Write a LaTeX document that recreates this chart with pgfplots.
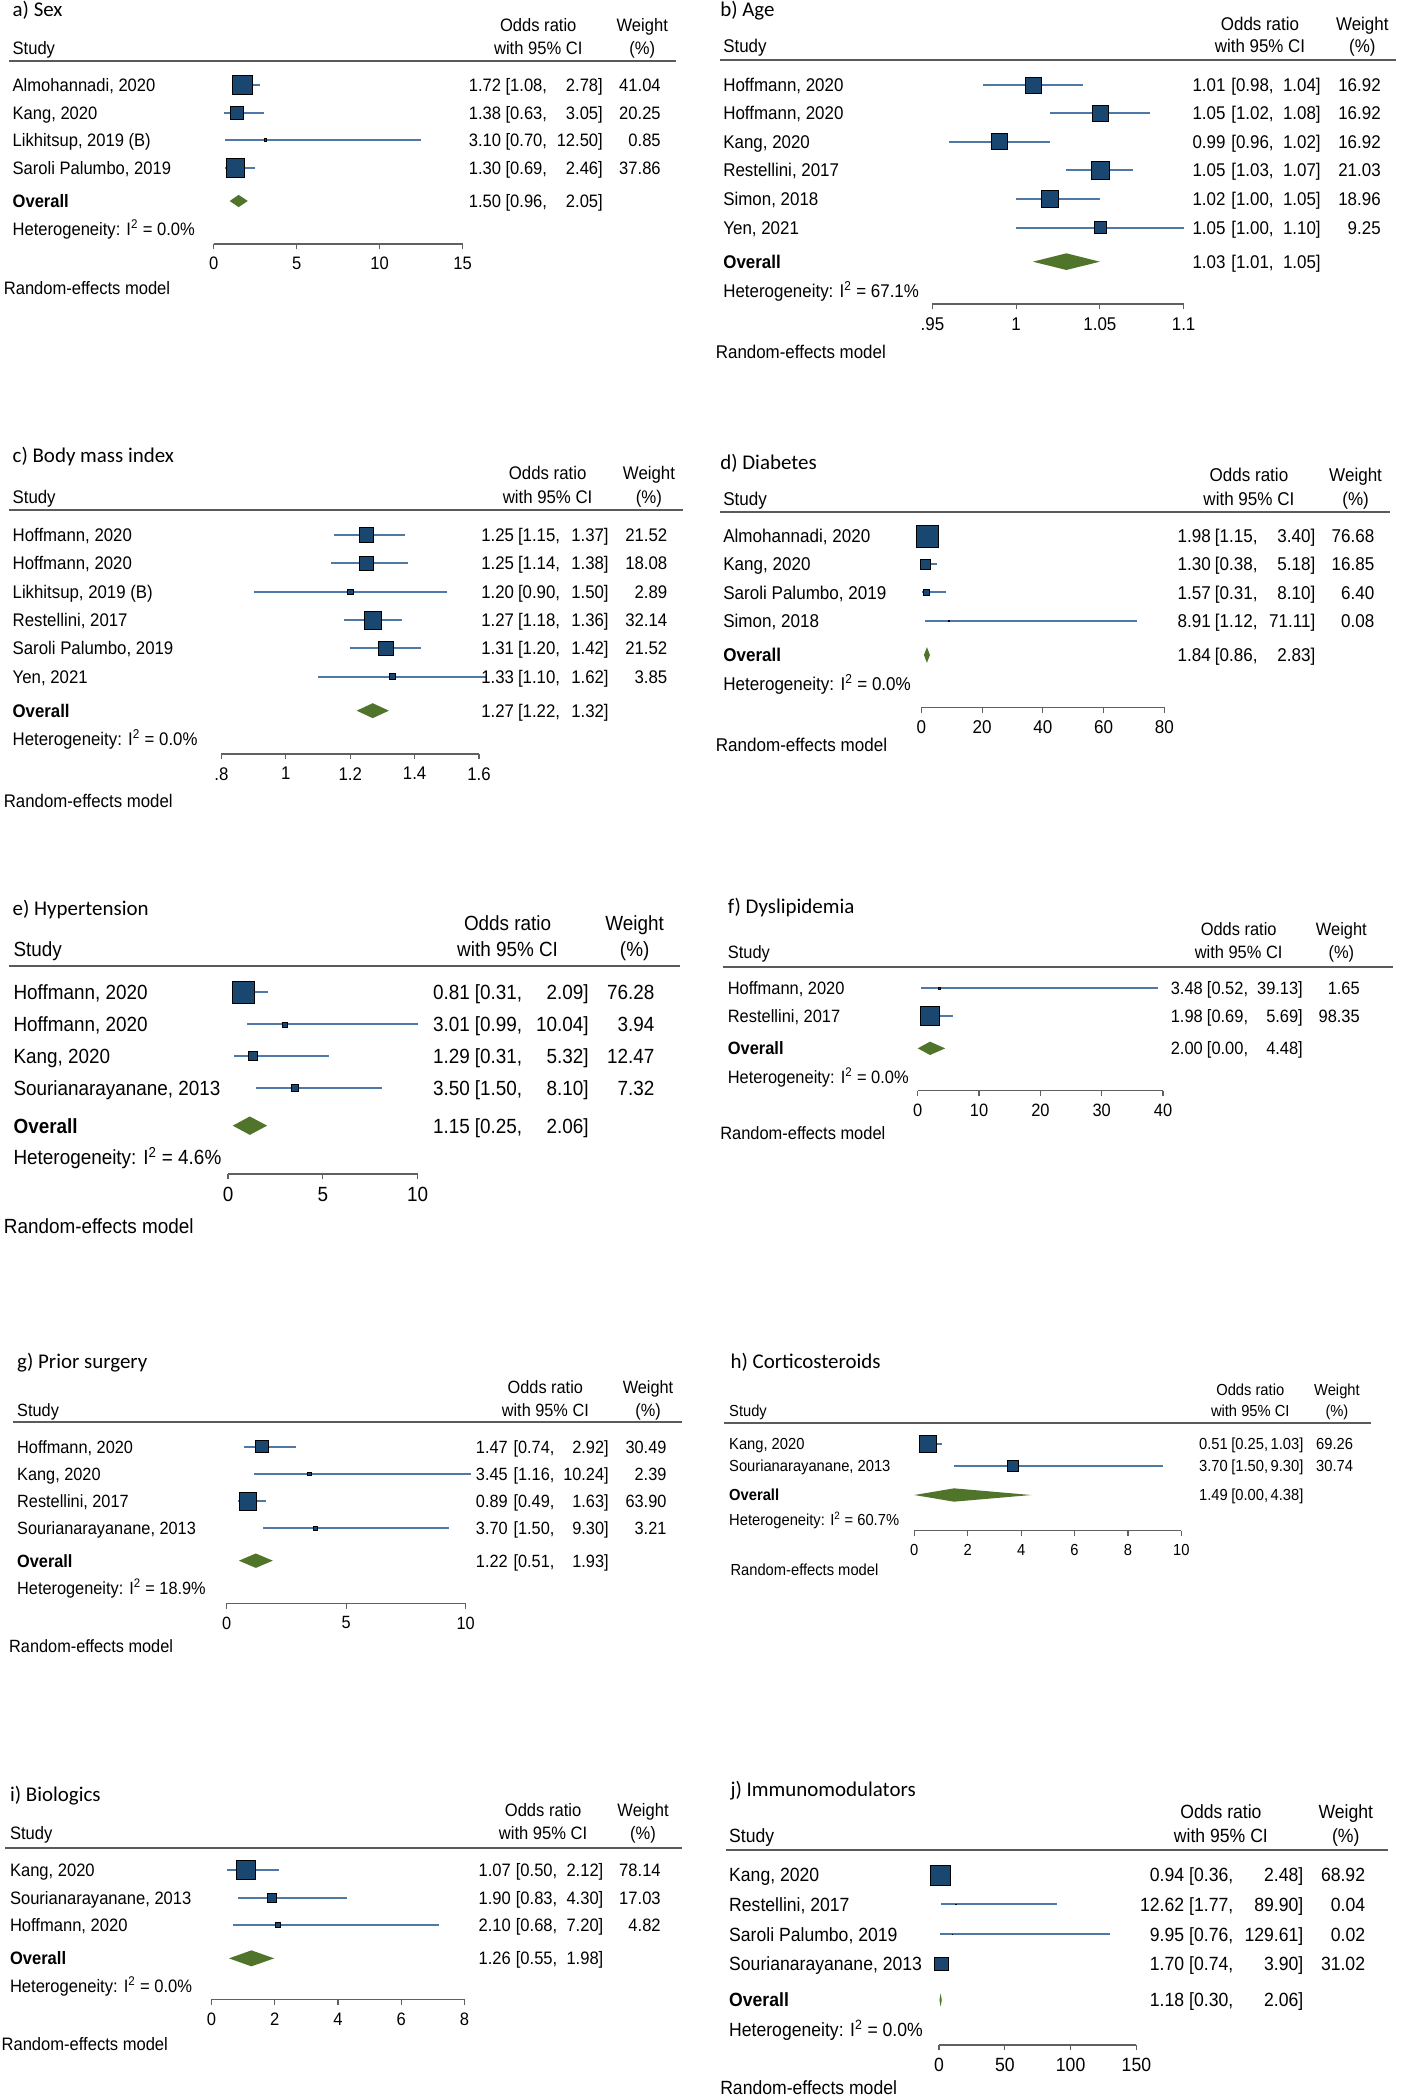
\documentclass[border=0pt]{standalone}
\usepackage{pgfplots}
\pgfplotsset{compat=1.18}
\usepackage{pgfplotstable}
\usepackage{fontspec}
\newfontfamily\bodyfont{Liberation Sans}[FakeStretch=0.92]
\newfontfamily\titlefont{Carlito}
\newcommand\fs[1]{\bodyfont\fontsize{#1}{#1}\selectfont}
\newcommand\titlef{\titlefont\fontsize{15.7}{15.7}\selectfont}

\definecolor{sqnavy}{HTML}{1A476F}
\definecolor{ciblue}{HTML}{4E79A6}
\definecolor{diagreen}{HTML}{4F742A}
\definecolor{rulegray}{HTML}{5A5A5A}
\definecolor{axgray}{HTML}{606060}

\pgfplotsset{
  forest/.style={
    scale only axis, clip=false, enlargelimits=false,
    anchor=south west,
    axis x line=bottom, axis y line=none, ytick=\empty,
    x axis line style={-, draw=axgray, line width=0.9pt},
    tick align=outside, major tick length=4pt,
    xtick style={draw=axgray, line width=0.9pt},
    xticklabel style={font=\fs{\Sz}, text=black},
    xticklabel shift=2.5pt,
    /pgf/number format/assume math mode=true,
  },
  ci/.style={draw=none, mark=none,
    error bars/x dir=both, error bars/x explicit, error bars/error mark=none,
    error bars/error bar style={draw=ciblue, line width=1.35pt, solid}},
  sq/.style={only marks, scatter, mark=square*,
    scatter/use mapped color={draw=none, fill=sqnavy},
    visualization depends on={\kk*sqrt(\thisrow{w})/2 \as \ms},
    scatter/@pre marker code/.append style={/tikz/mark size=\ms}},
  dia/.style={draw=none, fill=diagreen, mark=none},
}

% CI lines and weighted squares for one table
\newcommand\studies[1]{%
  \addplot[ci] table[x=or, y expr=-\thisrow{y},
    x error plus expr=\thisrow{hi}-\thisrow{or},
    x error minus expr=\thisrow{or}-\thisrow{lo}] {#1};
  \addplot[sq] table[x=or, y expr=-\thisrow{y}] {#1};}

% column positions of a panel: name, OR right, [ left, upper right, weight right, header centres, font size
\newcommand\setp[8]{\def\Xn{#1}\def\Xo{#2}\def\Xb{#3}\def\Xu{#4}\def\Xw{#5}\def\Xc{#6}\def\Xwc{#7}\def\Sz{#8}}

\newcommand\hdr[8]{%
  \node[anchor=base west, font=\titlef] at (#1,#2) {#3};
  \node[anchor=base] at (\Xc,#4) {Odds ratio};
  \node[anchor=base] at (\Xwc,#4) {Weight};
  \node[anchor=base west] at (\Xn,#5) {Study};
  \node[anchor=base] at (\Xc,#5) {with 95\% CI};
  \node[anchor=base] at (\Xwc,#5) {(\%)};
  \draw[rulegray, line width=1.5pt] (#7,#6) -- (#8,#6);}

\newcommand\row[6]{%
  \pgfmathsetmacro\yb{#1+0.36*\Sz}%
  \node[anchor=base west] at (\Xn,\yb) {#2};
  \node[anchor=base east] at (\Xo,\yb) {#3};
  \node[anchor=base west] at (\Xb,\yb) {[#4,};
  \node[anchor=base east] at (\Xu,\yb) {#5]};
  \node[anchor=base east] at (\Xw,\yb) {#6};}

\newcommand\ftr[4]{%
  \pgfmathsetmacro\yb{#1+0.36*\Sz}%
  \node[anchor=base west] at (\Xn,\yb) {Heterogeneity: I\textsuperscript{2} = #2\%};
  \pgfmathsetmacro\yb{#4+0.36*\Sz}%
  \node[anchor=base west] at (#3,\yb) {Random-effects model};}

\tikzset{txt/.style={x=1pt, y=-1pt, every node/.style={inner sep=0pt, font=\fs{\Sz}}}}

\pgfplotstableread{
y or lo hi w
63.75 1.72 1.08 2.78 41.04
84.5 1.38 0.63 3.05 20.25
105 3.10 0.70 12.50 0.85
125.75 1.30 0.69 2.46 37.86
}\tA
\pgfplotstableread{
y or lo hi w
63.75 1.01 0.98 1.04 16.92
85 1.05 1.02 1.08 16.92
106.25 0.99 0.96 1.02 16.92
127.5 1.05 1.03 1.07 21.03
149.25 1.02 1.00 1.05 18.96
170.75 1.05 1.00 1.10 9.25
}\tB
\pgfplotstableread{
y or lo hi w
401.25 1.25 1.15 1.37 21.52
422.5 1.25 1.14 1.38 18.08
443.75 1.20 0.90 1.50 2.89
465 1.27 1.18 1.36 32.14
486.25 1.31 1.20 1.42 21.52
507.5 1.33 1.10 1.62 3.85
}\tC
\pgfplotstableread{
y or lo hi w
402 1.98 1.15 3.40 76.68
423 1.30 0.38 5.18 16.85
444.25 1.57 0.31 8.10 6.40
465.5 8.91 1.12 71.11 0.08
}\tD
\pgfplotstableread{
y or lo hi w
744.25 0.81 0.31 2.09 76.28
768.25 3.01 0.99 10.04 3.94
791.75 1.29 0.31 5.32 12.47
815.75 3.50 1.50 8.10 7.32
}\tE
\pgfplotstableread{
y or lo hi w
741.25 3.48 0.52 39.13 1.65
761.75 1.98 0.69 5.69 98.35
}\tF
\pgfplotstableread{
y or lo hi w
1085 1.47 0.74 2.92 30.49
1105.5 3.45 1.16 10.24 2.39
1125.75 0.89 0.49 1.63 63.90
1146.25 3.70 1.50 9.30 3.21
}\tG
\pgfplotstableread{
y or lo hi w
1083 0.51 0.25 1.03 69.26
1099.5 3.70 1.50 9.30 30.74
}\tH
\pgfplotstableread{
y or lo hi w
1402.5 1.07 0.50 2.12 78.14
1423.25 1.90 0.83 4.30 17.03
1443.75 2.10 0.68 7.20 4.82
}\tI
\pgfplotstableread{
y or lo hi w
1406.25 0.94 0.36 2.48 68.92
1428.25 12.62 1.77 89.90 0.04
1450.75 9.95 0.76 129.61 0.02
1473 1.70 0.74 3.90 31.02
}\tJ

\begin{document}
\begin{tikzpicture}
\path[use as bounding box] (0,0) rectangle (1050.75pt,-1575pt);

% a) Sex
\setp{9.3}{376}{379}{452.3}{495.7}{403.7}{481.7}{13.5}\def\kk{2.25}
\begin{axis}[forest, at={(160.3pt,-183pt)}, width=186.7pt, height=137.25pt,
  xmin=0, xmax=15, ymin=-183, ymax=-45.75, xtick={0,5,10,15}, xticklabels={0,5,10,15}]
\studies{\tA}
\addplot[dia] coordinates {(0.96,-150.75) (1.50,-146.15) (2.05,-150.75) (1.50,-155.35) (0.96,-150.75)};
\end{axis}
\begin{scope}[txt]
\hdr{9.3}{12.5}{a) Sex}{23.75}{40.5}{45.75}{6.7}{506.7}
\row{63.75}{Almohannadi, 2020}{1.72}{1.08}{2.78}{41.04}
\row{84.5}{Kang, 2020}{1.38}{0.63}{3.05}{20.25}
\row{105}{Likhitsup, 2019 (B)}{3.10}{0.70}{12.50}{0.85}
\row{125.75}{Saroli Palumbo, 2019}{1.30}{0.69}{2.46}{37.86}
\row{150.75}{\bfseries Overall}{1.50}{0.96}{2.05}{}
\ftr{172}{0.0}{2.7}{216.25}
\end{scope}

% b) Age
\setp{542.3}{919.3}{923.3}{990.7}{1035.7}{945}{1021.7}{13.8}\def\kk{2.95}
\begin{axis}[forest, at={(699.3pt,-228pt)}, width=188.4pt, height=183pt,
  xmin=0.95, xmax=1.1, ymin=-228, ymax=-45, xtick={0.95,1,1.05,1.1}, xticklabels={.95,1,1.05,1.1}]
\studies{\tB}
\addplot[dia] coordinates {(1.01,-196.25) (1.03,-190) (1.05,-196.25) (1.03,-202.5) (1.01,-196.25)};
\end{axis}
\begin{scope}[txt]
\hdr{540}{12.5}{b) Age}{22.5}{39.5}{45}{540}{1046.7}
\row{63.75}{Hoffmann, 2020}{1.01}{0.98}{1.04}{16.92}
\row{85}{Hoffmann, 2020}{1.05}{1.02}{1.08}{16.92}
\row{106.25}{Kang, 2020}{0.99}{0.96}{1.02}{16.92}
\row{127.5}{Restellini, 2017}{1.05}{1.03}{1.07}{21.03}
\row{149.25}{Simon, 2018}{1.02}{1.00}{1.05}{18.96}
\row{170.75}{Yen, 2021}{1.05}{1.00}{1.10}{9.25}
\row{196.25}{\bfseries Overall}{1.03}{1.01}{1.05}{}
\ftr{218}{67.1}{536.7}{263.75}
\end{scope}

% c) Body mass index
\setp{9.3}{385.7}{388.3}{456.7}{500.7}{410.7}{486.7}{13.7}\def\kk{2.35}
\begin{axis}[forest, at={(166pt,-565.5pt)}, width=193.3pt, height=183pt,
  xmin=0.8, xmax=1.6, ymin=-565.5, ymax=-382.5, xtick={0.8,1,1.2,1.4,1.6}, xticklabels={.8,1,1.2,1.4,1.6}]
\studies{\tC}
\addplot[dia] coordinates {(1.22,-533) (1.27,-527.4) (1.32,-533) (1.27,-538.6) (1.22,-533)};
\end{axis}
\begin{scope}[txt]
\hdr{9.3}{347}{c) Body mass index}{359.5}{377.5}{382.5}{6.7}{512.3}
\row{401.25}{Hoffmann, 2020}{1.25}{1.15}{1.37}{21.52}
\row{422.5}{Hoffmann, 2020}{1.25}{1.14}{1.38}{18.08}
\row{443.75}{Likhitsup, 2019 (B)}{1.20}{0.90}{1.50}{2.89}
\row{465}{Restellini, 2017}{1.27}{1.18}{1.36}{32.14}
\row{486.25}{Saroli Palumbo, 2019}{1.31}{1.20}{1.42}{21.52}
\row{507.5}{Yen, 2021}{1.33}{1.10}{1.62}{3.85}
\row{533}{\bfseries Overall}{1.27}{1.22}{1.32}{}
\ftr{554.5}{0.0}{2.7}{600.5}
\end{scope}

% d) Diabetes
\setp{542.3}{908.3}{911}{986.7}{1031}{936.7}{1016.7}{13.9}\def\kk{1.88}
\begin{axis}[forest, at={(691pt,-530.5pt)}, width=182.3pt, height=146.25pt,
  xmin=0, xmax=80, ymin=-530.5, ymax=-384.25, xtick={0,20,40,60,80}, xticklabels={0,20,40,60,80}]
\studies{\tD}
\addplot[dia] coordinates {(0.86,-491.25) (1.84,-485.35) (2.83,-491.25) (1.84,-497.15) (0.86,-491.25)};
\end{axis}
\begin{scope}[txt]
\hdr{540}{351.75}{d) Diabetes}{361.25}{378.75}{384.25}{540}{1042.3}
\row{402}{Almohannadi, 2020}{1.98}{1.15}{3.40}{76.68}
\row{423}{Kang, 2020}{1.30}{0.38}{5.18}{16.85}
\row{444.25}{Saroli Palumbo, 2019}{1.57}{0.31}{8.10}{6.40}
\row{465.5}{Simon, 2018}{8.91}{1.12}{71.11}{0.08}
\row{491.25}{\bfseries Overall}{1.84}{0.86}{2.83}{}
\ftr{512.5}{0.0}{536.7}{558.25}
\end{scope}

% e) Hypertension
\setp{10}{352.7}{356}{441.7}{491}{380.7}{476}{15.4}\def\kk{1.95}
\begin{axis}[forest, at={(171pt,-880.5pt)}, width=142.3pt, height=156pt,
  xmin=0, xmax=10, ymin=-880.5, ymax=-724.5, xtick={0,5,10}, xticklabels={0,5,10}]
\studies{\tE}
\addplot[dia] coordinates {(0.25,-844.25) (1.15,-837.35) (2.06,-844.25) (1.15,-851.15) (0.25,-844.25)};
\end{axis}
\begin{scope}[txt]
\hdr{9.3}{686.25}{e) Hypertension}{698}{717.5}{724.5}{6.7}{510}
\row{744.25}{Hoffmann, 2020}{0.81}{0.31}{2.09}{76.28}
\row{768.25}{Hoffmann, 2020}{3.01}{0.99}{10.04}{3.94}
\row{791.75}{Kang, 2020}{1.29}{0.31}{5.32}{12.47}
\row{815.75}{Sourianarayanane, 2013}{3.50}{1.50}{8.10}{7.32}
\row{844.25}{\bfseries Overall}{1.15}{0.25}{2.06}{}
\ftr{867.5}{4.6}{2.7}{919.5}
\end{scope}

% f) Dyslipidemia
\setp{545.7}{902.3}{905}{977.3}{1020}{929}{1006}{13.4}\def\kk{1.45}
\begin{axis}[forest, at={(688.3pt,-818pt)}, width=184pt, height=92.5pt,
  xmin=0, xmax=40, ymin=-818, ymax=-725.5, xtick={0,10,20,30,40}, xticklabels={0,10,20,30,40}]
\studies{\tF}
\addplot[dia] coordinates {(0,-786.25) (2,-781.25) (4.48,-786.25) (2,-791.25) (0,-786.25)};
\end{axis}
\begin{scope}[txt]
\hdr{545.7}{685}{f) Dyslipidemia}{701.25}{718.75}{725.5}{542.3}{1045}
\row{741.25}{Hoffmann, 2020}{3.48}{0.52}{39.13}{1.65}
\row{761.75}{Restellini, 2017}{1.98}{0.69}{5.69}{98.35}
\row{786.25}{\bfseries Overall}{2.00}{0.00}{4.48}{}
\ftr{807.5}{0.0}{540}{850}
\end{scope}

% g) Prior surgery
\setp{12.7}{381}{385}{456.7}{500}{409}{486}{13.3}\def\kk{1.65}
\begin{axis}[forest, at={(170pt,-1202.5pt)}, width=179.3pt, height=136pt,
  xmin=0, xmax=10, ymin=-1202.5, ymax=-1066.5, xtick={0,5,10}, xticklabels={0,5,10}]
\studies{\tG}
\addplot[dia] coordinates {(0.51,-1170.5) (1.22,-1165.1) (1.93,-1170.5) (1.22,-1175.9) (0.51,-1170.5)};
\end{axis}
\begin{scope}[txt]
\hdr{12.7}{1026.25}{g) Prior surgery}{1045}{1062}{1066.5}{10}{511.7}
\row{1085}{Hoffmann, 2020}{1.47}{0.74}{2.92}{30.49}
\row{1105.5}{Kang, 2020}{3.45}{1.16}{10.24}{2.39}
\row{1125.75}{Restellini, 2017}{0.89}{0.49}{1.63}{63.90}
\row{1146.25}{Sourianarayanane, 2013}{3.70}{1.50}{9.30}{3.21}
\row{1170.5}{\bfseries Overall}{1.22}{0.51}{1.93}{}
\ftr{1191.25}{18.9}{6.7}{1234.5}
\end{scope}

% h) Corticosteroids
\setp{546.7}{921}{923.3}{977.7}{1015}{937.7}{1002.7}{12.0}\def\kk{1.5}
\begin{axis}[forest, at={(685.7pt,-1148pt)}, width=200.3pt, height=80.5pt,
  xmin=0, xmax=10, ymin=-1148, ymax=-1067.5, xtick={0,2,4,6,8,10}, xticklabels={0,2,4,6,8,10}]
\studies{\tH}
\addplot[dia] coordinates {(0,-1121.25) (1.49,-1116.25) (4.38,-1121.25) (1.49,-1126.25) (0,-1121.25)};
\end{axis}
\begin{scope}[txt]
\hdr{547.7}{1026.25}{h) Corticosteroids}{1046.25}{1062.5}{1067.5}{543.3}{1028.3}
\row{1083}{Kang, 2020}{0.51}{0.25}{1.03}{69.26}
\row{1099.5}{Sourianarayanane, 2013}{3.70}{1.50}{9.30}{30.74}
\row{1121.25}{\bfseries Overall}{1.49}{0.00}{4.38}{}
\ftr{1140}{60.7}{547.7}{1177.5}
\end{scope}

% i) Biologics
\setp{7.3}{383.3}{386.7}{452.7}{495.7}{407.3}{482.3}{13.5}\def\kk{1.6}
\begin{axis}[forest, at={(158.7pt,-1499.5pt)}, width=189.6pt, height=113.75pt,
  xmin=0, xmax=8, ymin=-1499.5, ymax=-1385.75, xtick={0,2,4,6,8}, xticklabels={0,2,4,6,8}]
\studies{\tI}
\addplot[dia] coordinates {(0.55,-1468.75) (1.26,-1462.75) (1.98,-1468.75) (1.26,-1474.75) (0.55,-1468.75)};
\end{axis}
\begin{scope}[txt]
\hdr{7.3}{1351.25}{i) Biologics}{1362.5}{1379.5}{1385.75}{4}{511.7}
\row{1402.5}{Kang, 2020}{1.07}{0.50}{2.12}{78.14}
\row{1423.25}{Sourianarayanane, 2013}{1.90}{0.83}{4.30}{17.03}
\row{1443.75}{Hoffmann, 2020}{2.10}{0.68}{7.20}{4.82}
\row{1468.75}{\bfseries Overall}{1.26}{0.55}{1.98}{}
\ftr{1489.5}{0.0}{1}{1533}
\end{scope}

% j) Immunomodulators
\setp{546.7}{888.3}{891.7}{977.7}{1024}{915.7}{1009.3}{14.35}\def\kk{1.78}
\begin{axis}[forest, at={(704.3pt,-1533.75pt)}, width=148pt, height=146pt,
  xmin=0, xmax=150, ymin=-1533.75, ymax=-1387.75, xtick={0,50,100,150}, xticklabels={0,50,100,150}]
\studies{\tJ}
\addplot[dia] coordinates {(0.30,-1500) (1.18,-1495) (2.06,-1500) (1.18,-1505) (0.30,-1500)};
\end{axis}
\begin{scope}[txt]
\hdr{547.7}{1347.5}{j) Immunomodulators}{1363.75}{1381.75}{1387.75}{544.3}{1041}
\row{1406.25}{Kang, 2020}{0.94}{0.36}{2.48}{68.92}
\row{1428.25}{Restellini, 2017}{12.62}{1.77}{89.90}{0.04}
\row{1450.75}{Saroli Palumbo, 2019}{9.95}{0.76}{129.61}{0.02}
\row{1473}{Sourianarayanane, 2013}{1.70}{0.74}{3.90}{31.02}
\row{1500}{\bfseries Overall}{1.18}{0.30}{2.06}{}
\ftr{1522.5}{0.0}{540}{1566}
\end{scope}
\end{tikzpicture}
\end{document}
